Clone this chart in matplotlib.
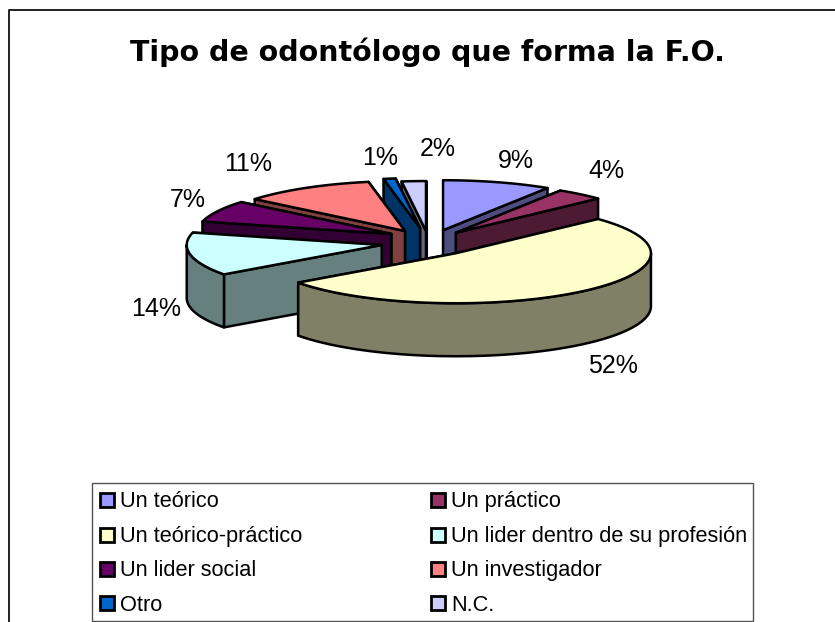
import numpy as np
import matplotlib
matplotlib.use("Agg")
import matplotlib.pyplot as plt
from matplotlib.patches import Rectangle

title = "Tipo de odontólogo que forma la F.O."
categories = ["Un teórico", "Un práctico", "Un teórico-práctico",
              "Un lider dentro de su profesión", "Un lider social",
              "Un investigador", "Otro", "N.C."]
percentages = [9, 4, 52, 14, 7, 11, 1, 2]
colors = ["#9999FF", "#993366", "#FFFFCC", "#CCFFFF",
          "#660066", "#FF8080", "#0066CC", "#CCCCFF"]

# geometry of the tilted pie, in pixels of the picture
center_x, center_y = 433, 243
radius_x, radius_y = 195, 50
depth = 53
explode_unit_x, explode_unit_y = 36, 13.3
explode_x = [1.0, 1.0, 1.0, 1.45, 1.3, 1.53, 2.3, 3.1]
explode_y = [1.0, 1.0, 1.0, 0.8, 1.5, 1.05, 1.14, 0.9]
draw_order = [0, 1, 7, 6, 5, 4, 3, 2]  # back to front

label_x = [516, 606, 613, 156, 188, 248, 380, 438]
label_y = [161, 171, 366, 309, 200, 164, 158, 149]

EDGE_LW = 1.8


def darker(hex_color):
    return tuple(c / 2 for c in matplotlib.colors.to_rgb(hex_color))


def rim(cx, cy, a0, a1):
    t = np.radians(np.linspace(a0, a1, 80))
    return cx + radius_x * np.sin(t), cy - radius_y * np.cos(t)


fig = plt.figure(figsize=(8.35, 6.22), dpi=100)
ax = fig.add_axes([0, 0, 1, 1])
ax.set_xlim(0, 835)
ax.set_ylim(622, 0)
ax.axis("off")

# outer chart frame, open at the right and bottom
ax.plot([9, 9, 835], [622, 10, 10], color="#222222", lw=1.4)

# slice angles, clockwise from the top
edges = np.cumsum([0] + percentages) * 3.6

for i in draw_order:
    a0, a1 = edges[i], edges[i + 1]
    mid = np.radians((a0 + a1) / 2)
    cx = center_x + explode_x[i] * explode_unit_x * np.sin(mid)
    cy = center_y - explode_y[i] * explode_unit_y * np.cos(mid)
    side = darker(colors[i])

    # cut walls, the one lower on the picture goes last
    for a in sorted((a0, a1), key=lambda v: -np.cos(np.radians(v))):
        rx, ry = rim(cx, cy, a, a)
        ax.fill([cx, rx[0], rx[0], cx], [cy, ry[0], ry[0] + depth, cy + depth],
                facecolor=side, edgecolor="black", lw=EDGE_LW, joinstyle="round")

    # outer wall, only the part that faces the viewer
    lo, hi = max(a0, 90), min(a1, 270)
    if lo < hi:
        rx, ry = rim(cx, cy, lo, hi)
        ax.fill(np.r_[rx, rx[::-1]], np.r_[ry, ry[::-1] + depth],
                facecolor=side, edgecolor="black", lw=EDGE_LW, joinstyle="round")

    # top
    rx, ry = rim(cx, cy, a0, a1)
    ax.fill(np.r_[cx, rx], np.r_[cy, ry], facecolor=colors[i],
            edgecolor="black", lw=EDGE_LW, joinstyle="round")

for v, x, y in zip(percentages, label_x, label_y):
    ax.text(x, y, f"{v}%", ha="center", va="center", fontsize=18,
            family="Liberation Sans", color="black")

ax.text(427, 61, title, ha="center", va="baseline", fontsize=20.5,
        family="DejaVu Sans", fontweight="bold", color="black")

# legend box
ax.add_patch(Rectangle((91.5, 483), 661, 138, facecolor="white",
                       edgecolor="#555555", lw=1.0, zorder=3))
row_y = [500, 535, 569, 603]
row_baseline = [507, 542, 576, 611]
col_swatch = [99, 430]
col_text = [120, 451]
for i, name in enumerate(categories):
    col, row = i % 2, i // 2
    ax.add_patch(Rectangle((col_swatch[col] + 1, row_y[row] - 7), 14, 14,
                           facecolor=colors[i], edgecolor="black", lw=2.0, zorder=4))
    ax.text(col_text[col], row_baseline[row], name, ha="left", va="baseline", fontsize=15.7,
            family="Liberation Sans", color="black", zorder=4)

fig.savefig("out.png", dpi=100)
